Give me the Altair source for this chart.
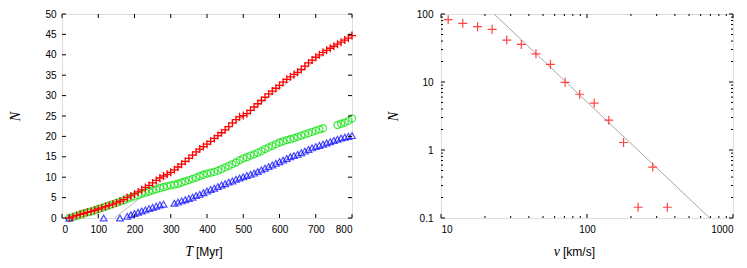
import altair as alt
import pandas as pd

# ---------------- left panel data ----------------
T_red = [20, 30, 40, 50, 60, 70, 80, 90, 100, 110, 120, 130, 140, 150, 160, 170, 180, 190, 200,
         210, 220, 230, 240, 250, 260, 270, 280, 290, 300, 310, 320, 330, 340, 350, 360, 370, 380,
         390, 400, 410, 420, 430, 440, 450, 460, 470, 480, 490, 500, 510, 520, 530, 540, 550, 560,
         570, 580, 590, 600, 610, 620, 630, 640, 650, 660, 670, 680, 690, 700, 710, 720, 730, 740,
         750, 760, 770, 780, 790, 800]
N_red = [0, 0.3, 0.6, 0.9, 1.1, 1.4, 1.6, 1.9, 2.2, 2.5, 2.8, 3.1, 3.4, 3.7, 4.1, 4.5, 5.0, 5.4, 5.9,
         6.4, 6.9, 7.5, 8.0, 8.6, 9.2, 9.8, 10.3, 10.7, 11.2, 11.8, 12.5, 13.2, 13.9, 14.6, 15.4, 16.2, 16.9,
         17.5, 18.1, 18.8, 19.5, 20.2, 20.9, 21.6, 22.4, 23.3, 24.1, 24.8, 25.1, 25.6, 26.4, 27.2, 28.0, 28.8, 29.6,
         30.4, 31.1, 31.8, 32.5, 33.3, 34.0, 34.6, 35.2, 35.7, 36.4, 37.2, 38.0, 38.7, 39.4, 40.0, 40.6, 41.1, 41.6,
         42.1, 42.6, 43.1, 43.6, 44.1, 44.7]

T_green = [20, 30, 40, 50, 60, 70, 80, 90, 100, 110, 120, 130, 140, 150, 160, 170, 180, 190, 200,
           210, 220, 230, 240, 250, 260, 270, 280, 290, 300, 310, 320, 330, 340, 350, 360, 370, 380,
           390, 400, 410, 420, 430, 440, 450, 460, 470, 480, 490, 500, 510, 520, 530, 540, 550, 560,
           570, 580, 590, 600, 610, 620, 630, 640, 650, 660, 670, 680, 690, 700, 710, 720,
           760, 770, 780, 790, 800]
N_green = [0, 0.2, 0.5, 0.8, 1.1, 1.4, 1.6, 1.9, 2.2, 2.5, 2.8, 3.1, 3.4, 3.7, 4.0, 4.3, 4.7, 5.0, 5.3,
           5.6, 5.9, 6.2, 6.5, 6.8, 7.0, 7.3, 7.6, 7.8, 8.0, 8.2, 8.4, 8.7, 9.0, 9.3, 9.6, 9.9, 10.3,
           10.6, 10.9, 11.1, 11.3, 11.6, 12.0, 12.4, 12.8, 13.2, 13.6, 14.2, 14.6, 14.9, 15.3, 15.6, 16.0, 16.4, 16.9,
           17.3, 17.7, 18.1, 18.5, 18.8, 19.1, 19.3, 19.6, 19.9, 20.2, 20.5, 20.8, 21.1, 21.4, 21.7, 22.0,
           22.8, 23.1, 23.4, 23.8, 24.4]

T_blue = [20, 115, 160, 180, 190, 200, 210, 220, 230, 240, 250, 260, 270, 280,
          310, 320, 330, 340, 350, 360, 370, 380, 390, 400, 410, 420, 430, 440, 450, 460, 470, 480,
          490, 500, 510, 520, 530, 540, 550, 560, 570, 580, 590, 600, 610, 620, 630, 640, 650, 660,
          670, 680, 690, 700, 710, 720, 730, 740, 750, 760, 770, 780, 790, 800]
N_blue = [0, 0, 0, 0.4, 0.8, 1.1, 1.4, 1.7, 2.0, 2.3, 2.6, 2.9, 3.2, 3.4,
          3.6, 3.9, 4.2, 4.5, 4.8, 5.1, 5.5, 5.8, 6.2, 6.6, 7.0, 7.3, 7.7, 8.1, 8.4, 8.8, 9.1, 9.5,
          9.8, 10.1, 10.4, 10.7, 11.0, 11.4, 11.8, 12.2, 12.6, 13.0, 13.4, 13.8, 14.2, 14.6, 15.0, 15.3, 15.6, 16.0,
          16.4, 16.8, 17.2, 17.5, 17.8, 18.1, 18.4, 18.7, 19.0, 19.3, 19.6, 19.8, 20.0, 20.2]

T_fit = [145, 800]
N_fit = [0, 45.6]

x_ticks_left = [0, 100, 200, 300, 400, 500, 600, 700, 800]
y_ticks_left = [0, 5, 10, 15, 20, 25, 30, 35, 40, 45, 50]

# ---------------- right panel data ----------------
v_pts = [11.2, 14.1, 17.8, 22.4, 28.2, 35.5, 44.7, 56.2, 70.8, 89.1, 112, 141, 178, 224, 282, 355]
N_pts = [82.5, 73, 65, 59.5, 41.4, 35.7, 26, 18.2, 9.9, 6.6, 4.9, 2.75, 1.29, 0.144, 0.56, 0.144]
v_fit = [23.1, 692]
Nv_fit = [100, 0.1]

x_ticks_right = [10, 100, 1000]
x_minor_right = [20, 30, 40, 50, 60, 70, 80, 90, 200, 300, 400, 500, 600, 700, 800, 900]
y_ticks_right = [0.1, 1, 10, 100]
y_minor_right = [0.2, 0.3, 0.4, 0.5, 0.6, 0.7, 0.8, 0.9, 2, 3, 4, 5, 6, 7, 8, 9,
                 20, 30, 40, 50, 60, 70, 80, 90]

WL, HL = 290, 204
WR, HR = 292, 204
FONT = "Liberation Sans"
SERIF = "Liberation Serif"
PLUS = "M-1,0L1,0M0,-1L0,1"


def tick_layers(xs, ys, xscale, yscale, xax, yax, W, H, L):
    layers = []
    dx = pd.DataFrame({"a": xs})
    dy = pd.DataFrame({"a": ys})
    xenc = alt.X("a:Q", scale=xscale, axis=xax)
    yenc = alt.Y("a:Q", scale=yscale, axis=yax)
    rule = dict(color="black", strokeWidth=1)
    layers.append(alt.Chart(dx).mark_rule(**rule).encode(x=xenc, y=alt.value(H), y2=alt.value(H - L)))
    layers.append(alt.Chart(dx).mark_rule(**rule).encode(x=xenc, y=alt.value(0), y2=alt.value(L)))
    layers.append(alt.Chart(dy).mark_rule(**rule).encode(y=yenc, x=alt.value(0), x2=alt.value(L)))
    layers.append(alt.Chart(dy).mark_rule(**rule).encode(y=yenc, x=alt.value(W), x2=alt.value(W - L)))
    return layers


def axis(values, pad, title=None, tpad=0, fmt=None):
    kw = dict(values=values, ticks=False, domain=False, grid=False, labelPadding=pad,
              labelFont=FONT, labelFontSize=10, labelColor="black")
    if fmt:
        kw["format"] = fmt
    if title:
        kw.update(title=title, titleFont=SERIF, titleFontStyle="italic", titleFontWeight="normal",
                  titleFontSize=14, titlePadding=tpad, titleColor="black")
    else:
        kw["title"] = None
    return alt.Axis(**kw)


# ---------------- left chart ----------------
xsL = alt.Scale(domain=[0, 800], nice=False, zero=False)
ysL = alt.Scale(domain=[0, 50], nice=False, zero=False)
xaxL = axis(x_ticks_left, 6)
yaxL = axis(y_ticks_left, 6, "N", 22)

red_df = pd.DataFrame({"T": T_red, "N": N_red})
green_df = pd.DataFrame({"T": T_green, "N": N_green})
blue_df = pd.DataFrame({"T": T_blue, "N": N_blue})
fitL_df = pd.DataFrame({"T": T_fit, "N": N_fit})


def enc_left():
    return dict(x=alt.X("T:Q", scale=xsL, axis=xaxL), y=alt.Y("N:Q", scale=ysL, axis=yaxL))


fitL = alt.Chart(fitL_df).mark_line(color="#a0a0a0", strokeWidth=0.7).encode(**enc_left())
green = alt.Chart(green_df).mark_point(shape="circle", filled=False, color="#00e000", size=49,
                                       strokeWidth=1.3).encode(**enc_left())
blue = alt.Chart(blue_df).mark_point(shape="triangle-up", filled=False, color="#0000ff", size=45,
                                     strokeWidth=1.2).encode(**enc_left())
red = alt.Chart(red_df).mark_point(shape=PLUS, filled=False, color="#ff0000", size=64,
                                   strokeWidth=1.3, opacity=1).encode(**enc_left())

titleL = [
    alt.Chart(pd.DataFrame({"t": ["T"]})).mark_text(
        font=SERIF, fontStyle="italic", fontSize=14, align="right", baseline="alphabetic",
        color="black").encode(text="t:N", x=alt.value(131), y=alt.value(HL + 38)),
    alt.Chart(pd.DataFrame({"t": ["[Myr]"]})).mark_text(
        font=FONT, fontSize=12, align="left", baseline="alphabetic",
        color="black").encode(text="t:N", x=alt.value(134), y=alt.value(HL + 38)),
]

left = alt.layer(fitL, green, blue, red,
                 *tick_layers(x_ticks_left, y_ticks_left, xsL, ysL, xaxL, yaxL, WL, HL, 4),
                 *titleL).properties(width=WL, height=HL)

# ---------------- right chart ----------------
xsR = alt.Scale(type="log", domain=[10, 1000], nice=False)
ysR = alt.Scale(type="log", domain=[0.1, 100], nice=False)
xaxR = axis(x_ticks_right, 6, fmt="~g")
yaxR = axis(y_ticks_right, 8, "N", 16, fmt="~g")

ptsR_df = pd.DataFrame({"v": v_pts, "N": N_pts})
fitR_df = pd.DataFrame({"v": v_fit, "N": Nv_fit})


def enc_right():
    return dict(x=alt.X("v:Q", scale=xsR, axis=xaxR), y=alt.Y("N:Q", scale=ysR, axis=yaxR))


fitR = alt.Chart(fitR_df).mark_line(color="#909090", strokeWidth=0.8).encode(**enc_right())
ptsR = alt.Chart(ptsR_df).mark_point(shape=PLUS, filled=False, color="#ff3030", size=81,
                                     strokeWidth=1.2, opacity=0.9).encode(**enc_right())

titleR = [
    alt.Chart(pd.DataFrame({"t": ["v"]})).mark_text(
        font=SERIF, fontStyle="italic", fontSize=14, align="right", baseline="alphabetic",
        color="black").encode(text="t:N", x=alt.value(119), y=alt.value(HR + 38)),
    alt.Chart(pd.DataFrame({"t": ["[km/s]"]})).mark_text(
        font=FONT, fontSize=12, align="left", baseline="alphabetic",
        color="black").encode(text="t:N", x=alt.value(122), y=alt.value(HR + 38)),
]

right = alt.layer(fitR, ptsR,
                  *tick_layers(x_ticks_right, y_ticks_right, xsR, ysR, xaxR, yaxR, WR, HR, 4),
                  *tick_layers(x_minor_right, y_minor_right, xsR, ysR, xaxR, yaxR, WR, HR, 2),
                  *titleR).properties(width=WR, height=HR)

chart = alt.hconcat(left, right, spacing=25).properties(padding=0).configure_view(
    stroke="black", strokeWidth=1).configure(background="white")

chart.save("out.html", embed_options={"renderer": "svg", "actions": False})
